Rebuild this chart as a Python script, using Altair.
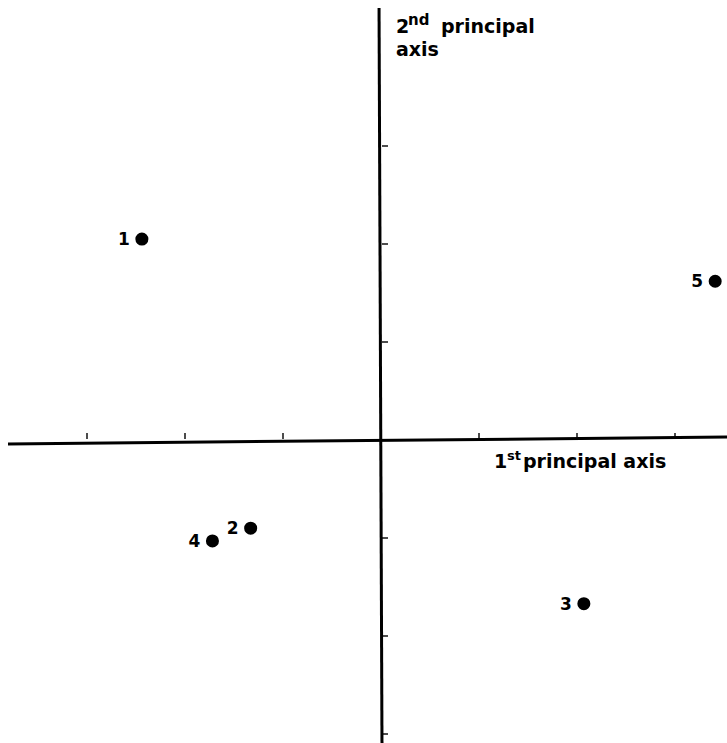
import altair as alt
import pandas as pd

# Data (principal-axis scores)
labels = ["1", "2", "3", "4", "5"]
pc1 = [-2.44, -1.33, 2.07, -1.72, 3.41]
pc2 = [2.05, -0.90, -1.67, -1.03, 1.62]

x_ticks = [-3, -2, -1, 1, 2, 3]
y_ticks = [3, 2, 1, -1, -2, -3]

# Geometry of the drawing
X0, Y0, UNIT = 381, 440, 98
W, H = 727, 743
x_dom = [-X0 / UNIT, (W - X0) / UNIT]
y_dom = [(Y0 - H) / UNIT, Y0 / UNIT]

xs = alt.Scale(domain=x_dom, nice=False, zero=False)
ys = alt.Scale(domain=y_dom, nice=False, zero=False)

FONT = "DejaVu Sans"

pts = pd.DataFrame({"label": labels, "x": pc1, "y": pc2})

# axis lines (ends)
hax = pd.DataFrame({"x": [(8 - X0) / UNIT], "x2": [x_dom[1]], "y": [-0.04], "y2": [0.03]})
vax = pd.DataFrame({"x": [-0.02], "x2": [0.01], "y": [(Y0 - 8) / UNIT], "y2": [y_dom[0]]})

h_line = alt.Chart(hax).mark_rule(color="black", strokeWidth=3).encode(
    x=alt.X("x:Q", scale=xs, axis=None), x2="x2", y=alt.Y("y:Q", scale=ys, axis=None), y2="y2")
v_line = alt.Chart(vax).mark_rule(color="black", strokeWidth=3).encode(
    x=alt.X("x:Q", scale=xs, axis=None), x2="x2", y=alt.Y("y:Q", scale=ys, axis=None), y2="y2")

xt = alt.Chart(pd.DataFrame({"x": x_ticks, "y": [0] * len(x_ticks)})).mark_tick(
    color="black", orient="vertical", size=6, thickness=2, yOffset=-4).encode(
    x=alt.X("x:Q", scale=xs, axis=None), y=alt.Y("y:Q", scale=ys, axis=None))
yt = alt.Chart(pd.DataFrame({"x": [0] * len(y_ticks), "y": y_ticks})).mark_tick(
    color="black", orient="horizontal", size=6, thickness=2, xOffset=4).encode(
    x=alt.X("x:Q", scale=xs, axis=None), y=alt.Y("y:Q", scale=ys, axis=None))

dots = alt.Chart(pts).mark_circle(color="black", opacity=1, size=170).encode(
    x=alt.X("x:Q", scale=xs, axis=None), y=alt.Y("y:Q", scale=ys, axis=None))
dot_labels = alt.Chart(pts).mark_text(
    font=FONT, fontSize=17, fontWeight="bold", align="right", baseline="middle", dx=-12, dy=1,
    color="black"
).encode(x=alt.X("x:Q", scale=xs, axis=None), y=alt.Y("y:Q", scale=ys, axis=None), text="label:N")


def txt(s, px, py, size):
    return alt.Chart(pd.DataFrame({"t": [s]})).mark_text(
        font=FONT, fontSize=size, fontWeight="bold", align="left", baseline="alphabetic",
        color="black"
    ).encode(x=alt.value(px), y=alt.value(py), text="t:N")


annot = [
    txt("2", 396, 33, 19), txt("nd", 408, 25, 15), txt("principal", 441, 33, 19),
    txt("axis", 396, 56, 19),
    txt("1", 494, 468, 19), txt("st", 507, 460, 13), txt("principal axis", 523, 468, 19),
]

chart = alt.layer(h_line, v_line, xt, yt, dots, dot_labels, *annot).properties(
    width=W, height=H, padding=0, autosize="none"
).configure_view(stroke=None)

chart.save("out.html", embed_options={"renderer": "svg", "actions": False})
